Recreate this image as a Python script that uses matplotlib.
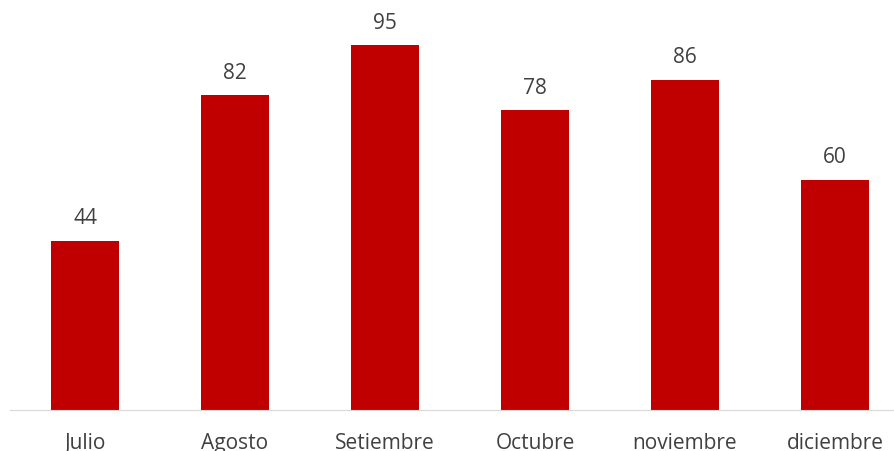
import numpy as np
import matplotlib.pyplot as plt

plt.rcParams['font.family'] = ['Open Sans', 'DejaVu Sans']

meses = ["Julio", "Agosto", "Setiembre", "Octubre", "noviembre", "diciembre"]
valores = [44, 82, 95, 78, 86, 60]

W, H = 895, 452
fig = plt.figure(figsize=(W / 100, H / 100), dpi=100)
# axes spans from the baseline (y=411 px) to the top, slightly past the right edge
ax = fig.add_axes([10 / W, (H - 411) / H, 900 / W, 411 / H])

x = np.arange(len(meses))
bars = ax.bar(x, valores, width=0.45, color="#C00000")

for xi, v in zip(x, valores):
    ax.annotate(str(v), (xi, v), xytext=(0, 9), textcoords="offset points",
                ha="center", va="bottom", fontsize=15, color="#404040")

ax.set_xlim(-0.5, 5.5)
ax.set_ylim(0, 107)
ax.set_xticks(x)
ax.set_xticklabels(meses, fontsize=15, color="#404040")
ax.tick_params(axis="x", length=0, pad=16)
ax.set_yticks([])
for s in ["top", "right", "left"]:
    ax.spines[s].set_visible(False)
ax.spines["bottom"].set_color("#D9D9D9")

fig.savefig("out.png", dpi=100)
